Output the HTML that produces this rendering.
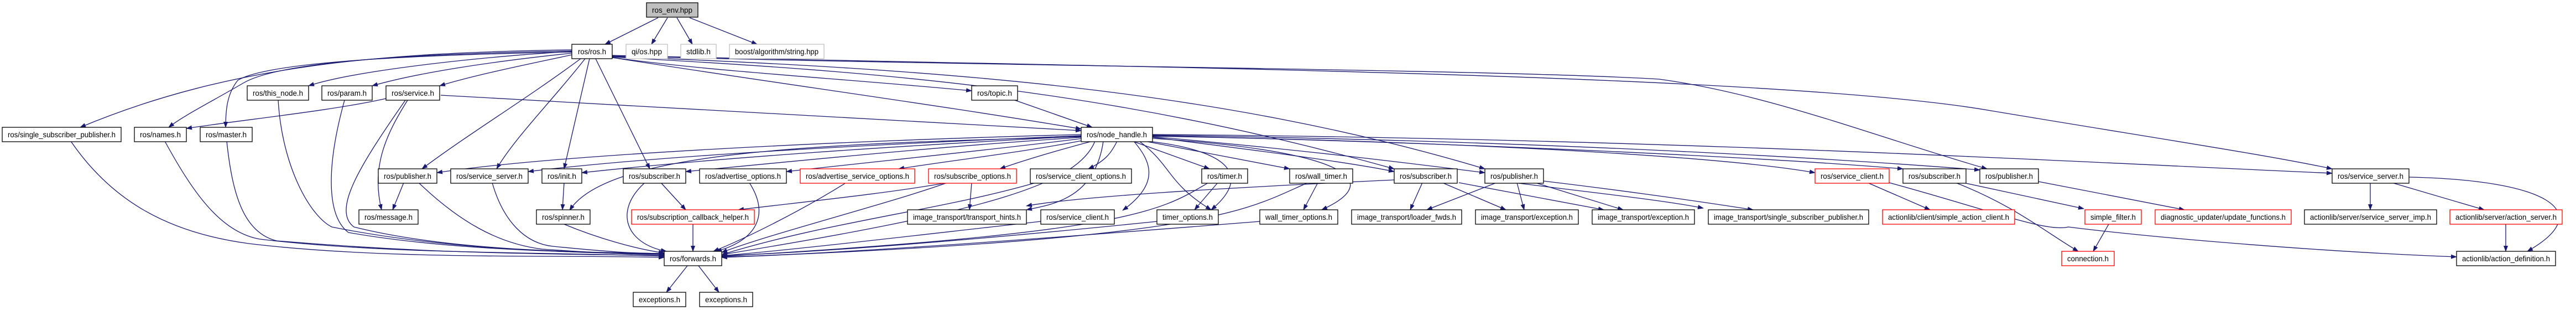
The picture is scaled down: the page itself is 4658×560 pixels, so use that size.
<!DOCTYPE html>
<html><head><meta charset="utf-8"><style>
html,body{margin:0;padding:0;background:#fff}
svg{display:block}
text{font-family:"Liberation Sans",sans-serif;font-size:14px;fill:#000}
.e{fill:none;stroke:#191970;stroke-width:1.3}
.n{fill:#fff;stroke:#000;stroke-width:1.3}
.r{fill:#fff;stroke:#ff0000;stroke-width:1.3}
.g{fill:#fff;stroke:#bfbfbf;stroke-width:1.3}
</style></head><body>
<svg width="4658" height="560" viewBox="0 0 4658 560" xmlns="http://www.w3.org/2000/svg">
<defs><marker id="a" markerWidth="11" markerHeight="8" refX="10" refY="4" orient="auto" markerUnits="userSpaceOnUse"><path d="M0,0 L11,4 L0,8 z" fill="#191970"/></marker></defs>
<g class="e" marker-end="url(#a)">
<path d="M1190,32 L1094,80"/><path d="M1207,32 L1178,80"/><path d="M1224,32 L1252,80"/><path d="M1247,32 L1369,80"/>
<path d="M1034,93 C900,100 650,125 558,155"/>
<path d="M1034,96 C900,110 760,130 673,155"/>
<path d="M1034,99 C960,115 860,135 795,155"/>
<path d="M1034,90 C700,95 420,115 145,230"/>
<path d="M1034,92 C700,98 500,115 440,150 C380,185 330,210 305,230"/>
<path d="M1034,94 C700,100 480,115 430,145 C410,170 408,200 408,230"/>
<path d="M1050,106 C950,180 850,240 763,305"/>
<path d="M1058,106 C1000,180 930,250 898,305"/>
<path d="M1066,106 L1020,305"/>
<path d="M1077,106 L1175,305"/>
<path d="M1107,104 C1300,130 1500,140 1757,164"/>
<path d="M1107,104 C1400,150 1700,190 1955,233"/>
<path d="M1107,103 C1600,130 2000,160 2521,305"/>
<path d="M1107,102 C1700,125 2200,160 2685,305"/>
<path d="M1107,101 C1800,120 2700,125 3000,143 C3200,170 3400,250 3593,305"/>
<path d="M1107,100 C1900,120 3200,130 3600,200 C3900,250 4100,280 4217,305"/>
<path d="M797,172 C1300,200 1700,220 1955,236"/>
<path d="M1835,181 L1975,230"/>
<path d="M698,178 C600,200 450,215 337,232"/>
<path d="M737,181 C700,240 670,300 690,379"/>
<path d="M1955,243 C1500,255 1000,280 790,312"/>
<path d="M1955,245 C1600,260 1200,280 955,310"/>
<path d="M1955,246 C1600,265 1300,285 1052,312"/>
<path d="M1955,247 C1500,260 1100,270 1030,380"/>
<path d="M1955,248 C1700,265 1500,285 1240,310"/>
<path d="M1958,250 C1800,270 1600,290 1422,310"/>
<path d="M1962,253 C1850,275 1720,290 1625,305"/>
<path d="M1975,255 C1900,275 1850,290 1808,305"/>
<path d="M2020,255 C2010,275 2000,290 1968,305"/>
<path d="M2048,255 L2187,305"/>
<path d="M2070,255 L2332,305"/>
<path d="M2084,248 C2300,275 2450,295 2521,310"/>
<path d="M2084,247 C2350,270 2550,295 2685,312"/>
<path d="M2084,246 C2600,255 3100,280 3282,312"/>
<path d="M2084,245 C2700,260 3200,285 3441,305"/>
<path d="M2084,244 C2800,255 3300,285 3580,307"/>
<path d="M2084,243 C3000,250 3700,290 4217,313"/>
<path d="M2050,255 C2080,290 2100,330 2030,380"/>
<path d="M2060,255 C2120,300 2110,330 2190,379"/>
<path d="M2075,255 C2250,275 2250,330 2190,379"/>
<path d="M2084,250 C2400,270 2520,320 2390,379"/>
<path d="M1995,255 C1980,360 1900,370 1856,379"/>
<path d="M730,330 L710,379"/>
<path d="M1020,330 L1017,379"/>
<path d="M1195,330 L1240,379"/>
<path d="M1757,330 L1753,379"/>
<path d="M1713,330 C1600,350 1450,365 1335,379"/>
<path d="M2202,330 L2160,379"/>
<path d="M2383,330 L2357,379"/>
<path d="M2572,330 L2550,379"/>
<path d="M2608,330 L2723,379"/>
<path d="M2638,330 L2900,379"/>
<path d="M2521,325 C2200,340 1950,355 1856,372"/>
<path d="M2706,330 L2580,379"/>
<path d="M2743,330 L2756,379"/>
<path d="M2776,330 L2935,379"/>
<path d="M2791,327 C2900,340 3050,360 3170,379"/>
<path d="M2700,325 C2850,345 3000,360 3080,376"/>
<path d="M3377,330 L3490,379"/>
<path d="M3550,330 L3768,377"/>
<path d="M3536,330 C3640,370 3700,420 3758,454"/>
<path d="M3686,328 L3950,379"/>
<path d="M3813,405 L3785,454"/>
<path d="M3416,330 C3600,380 3700,420 3740,410 C3900,430 4200,455 4442,464"/>
<path d="M4286,331 L4286,379"/>
<path d="M4325,330 L4492,379"/>
<path d="M4356,320 C4600,325 4700,380 4570,454"/>
<path d="M4531,405 L4531,454"/>
<path d="M128,255 C200,360 300,420 450,440 C700,470 1000,460 1201,465"/>
<path d="M298,255 C350,350 400,420 470,432 C700,460 1000,455 1201,463"/>
<path d="M410,255 C420,350 440,420 500,435 C800,460 1000,458 1201,462"/>
<path d="M503,181 C510,300 560,390 600,410 C800,450 1000,455 1201,460"/>
<path d="M623,181 C590,300 590,390 630,420 C800,450 1000,455 1201,459"/>
<path d="M733,181 C650,300 600,380 640,410 C800,450 1000,455 1201,458"/>
<path d="M757,330 C830,400 900,440 980,450 C1100,458 1150,460 1201,460"/>
<path d="M890,330 C910,400 950,440 1000,445 C1100,455 1150,458 1201,458"/>
<path d="M1020,405 C1080,430 1150,450 1201,457"/>
<path d="M1166,330 C1110,380 1130,440 1205,454"/>
<path d="M1253,405 L1253,454"/>
<path d="M1355,330 C1400,400 1350,440 1295,454"/>
<path d="M1530,330 C1450,380 1350,430 1290,454"/>
<path d="M1713,330 C1600,370 1400,420 1305,456"/>
<path d="M1873,330 C1700,380 1500,400 1305,460"/>
<path d="M1882,400 C1700,420 1450,450 1305,462"/>
<path d="M2185,330 C2100,380 2050,420 1305,463"/>
<path d="M2365,330 C2250,380 2200,430 1305,465"/>
<path d="M2092,400 C1800,430 1500,455 1305,462"/>
<path d="M2278,400 C1900,430 1500,460 1305,464"/>
<path d="M1980,255 C1950,330 1800,380 1305,460"/>
<path d="M1243,480 L1205,528"/><path d="M1263,480 L1300,528"/>
</g>
<g>
<rect x="1169" y="5" width="93" height="26" fill="#bfbfbf" stroke="#000" stroke-width="1.3"/><text x="1215.5" y="23" text-anchor="middle" textLength="73" lengthAdjust="spacingAndGlyphs">ros_env.hpp</text>
<rect class="n" x="1034" y="80" width="73" height="26"/><text x="1070.5" y="98" text-anchor="middle" textLength="51" lengthAdjust="spacingAndGlyphs">ros/ros.h</text>
<rect class="g" x="1132" y="80" width="75" height="26"/><text x="1169.5" y="98" text-anchor="middle" textLength="55" lengthAdjust="spacingAndGlyphs">qi/os.hpp</text>
<rect class="g" x="1231" y="80" width="64" height="26"/><text x="1263" y="98" text-anchor="middle" textLength="44" lengthAdjust="spacingAndGlyphs">stdlib.h</text>
<rect class="g" x="1319" y="80" width="171" height="26"/><text x="1404.5" y="98" text-anchor="middle" textLength="151" lengthAdjust="spacingAndGlyphs">boost/algorithm/string.hpp</text>
<rect class="n" x="447" y="155" width="111" height="26"/><text x="502.5" y="173" text-anchor="middle" textLength="91" lengthAdjust="spacingAndGlyphs">ros/this_node.h</text>
<rect class="n" x="582" y="155" width="91" height="26"/><text x="627.5" y="173" text-anchor="middle" textLength="71" lengthAdjust="spacingAndGlyphs">ros/param.h</text>
<rect class="n" x="698" y="155" width="97" height="26"/><text x="746.5" y="173" text-anchor="middle" textLength="77" lengthAdjust="spacingAndGlyphs">ros/service.h</text>
<rect class="n" x="1757" y="155" width="83" height="26"/><text x="1798.5" y="173" text-anchor="middle" textLength="63" lengthAdjust="spacingAndGlyphs">ros/topic.h</text>
<rect class="n" x="4" y="230" width="215" height="26"/><text x="111.5" y="248" text-anchor="middle" textLength="195" lengthAdjust="spacingAndGlyphs">ros/single_subscriber_publisher.h</text>
<rect class="n" x="243" y="230" width="94" height="26"/><text x="290" y="248" text-anchor="middle" textLength="74" lengthAdjust="spacingAndGlyphs">ros/names.h</text>
<rect class="n" x="362" y="230" width="94" height="26"/><text x="409" y="248" text-anchor="middle" textLength="74" lengthAdjust="spacingAndGlyphs">ros/master.h</text>
<rect class="n" x="1955" y="230" width="129" height="26"/><text x="2019.5" y="248" text-anchor="middle" textLength="109" lengthAdjust="spacingAndGlyphs">ros/node_handle.h</text>
<rect class="n" x="684" y="305" width="106" height="26"/><text x="737" y="323" text-anchor="middle" textLength="86" lengthAdjust="spacingAndGlyphs">ros/publisher.h</text>
<rect class="n" x="815" y="305" width="140" height="26"/><text x="885" y="323" text-anchor="middle" textLength="120" lengthAdjust="spacingAndGlyphs">ros/service_server.h</text>
<rect class="n" x="980" y="305" width="72" height="26"/><text x="1016" y="323" text-anchor="middle" textLength="52" lengthAdjust="spacingAndGlyphs">ros/init.h</text>
<rect class="n" x="1127" y="305" width="113" height="26"/><text x="1183.5" y="323" text-anchor="middle" textLength="93" lengthAdjust="spacingAndGlyphs">ros/subscriber.h</text>
<rect class="n" x="1265" y="305" width="157" height="26"/><text x="1343.5" y="323" text-anchor="middle" textLength="137" lengthAdjust="spacingAndGlyphs">ros/advertise_options.h</text>
<rect class="r" x="1447" y="305" width="207" height="26"/><text x="1550.5" y="323" text-anchor="middle" textLength="187" lengthAdjust="spacingAndGlyphs">ros/advertise_service_options.h</text>
<rect class="r" x="1679" y="305" width="159" height="26"/><text x="1758.5" y="323" text-anchor="middle" textLength="139" lengthAdjust="spacingAndGlyphs">ros/subscribe_options.h</text>
<rect class="n" x="1863" y="305" width="183" height="26"/><text x="1954.5" y="323" text-anchor="middle" textLength="163" lengthAdjust="spacingAndGlyphs">ros/service_client_options.h</text>
<rect class="n" x="2173" y="305" width="83" height="26"/><text x="2214.5" y="323" text-anchor="middle" textLength="63" lengthAdjust="spacingAndGlyphs">ros/timer.h</text>
<rect class="n" x="2332" y="305" width="114" height="26"/><text x="2389" y="323" text-anchor="middle" textLength="94" lengthAdjust="spacingAndGlyphs">ros/wall_timer.h</text>
<rect class="n" x="2521" y="305" width="114" height="26"/><text x="2578" y="323" text-anchor="middle" textLength="94" lengthAdjust="spacingAndGlyphs">ros/subscriber.h</text>
<rect class="n" x="2685" y="305" width="106" height="26"/><text x="2738" y="323" text-anchor="middle" textLength="86" lengthAdjust="spacingAndGlyphs">ros/publisher.h</text>
<rect class="r" x="3282" y="305" width="134" height="26"/><text x="3349" y="323" text-anchor="middle" textLength="114" lengthAdjust="spacingAndGlyphs">ros/service_client.h</text>
<rect class="n" x="3441" y="305" width="114" height="26"/><text x="3498" y="323" text-anchor="middle" textLength="94" lengthAdjust="spacingAndGlyphs">ros/subscriber.h</text>
<rect class="n" x="3580" y="305" width="106" height="26"/><text x="3633" y="323" text-anchor="middle" textLength="86" lengthAdjust="spacingAndGlyphs">ros/publisher.h</text>
<rect class="n" x="4217" y="305" width="139" height="26"/><text x="4286.5" y="323" text-anchor="middle" textLength="119" lengthAdjust="spacingAndGlyphs">ros/service_server.h</text>
<rect class="n" x="649" y="379" width="107" height="26"/><text x="702.5" y="397" text-anchor="middle" textLength="87" lengthAdjust="spacingAndGlyphs">ros/message.h</text>
<rect class="n" x="970" y="379" width="97" height="26"/><text x="1018.5" y="397" text-anchor="middle" textLength="77" lengthAdjust="spacingAndGlyphs">ros/spinner.h</text>
<rect class="r" x="1142" y="379" width="222" height="26"/><text x="1253" y="397" text-anchor="middle" textLength="202" lengthAdjust="spacingAndGlyphs">ros/subscription_callback_helper.h</text>
<rect class="n" x="1641" y="379" width="215" height="26"/><text x="1748.5" y="397" text-anchor="middle" textLength="195" lengthAdjust="spacingAndGlyphs">image_transport/transport_hints.h</text>
<rect class="n" x="1882" y="379" width="133" height="26"/><text x="1948.5" y="397" text-anchor="middle" textLength="113" lengthAdjust="spacingAndGlyphs">ros/service_client.h</text>
<rect class="n" x="2092" y="379" width="111" height="26"/><text x="2147.5" y="397" text-anchor="middle" textLength="91" lengthAdjust="spacingAndGlyphs">timer_options.h</text>
<rect class="n" x="2278" y="379" width="141" height="26"/><text x="2348.5" y="397" text-anchor="middle" textLength="121" lengthAdjust="spacingAndGlyphs">wall_timer_options.h</text>
<rect class="n" x="2444" y="379" width="199" height="26"/><text x="2543.5" y="397" text-anchor="middle" textLength="179" lengthAdjust="spacingAndGlyphs">image_transport/loader_fwds.h</text>
<rect class="n" x="2668" y="379" width="186" height="26"/><text x="2761" y="397" text-anchor="middle" textLength="166" lengthAdjust="spacingAndGlyphs">image_transport/exception.h</text>
<rect class="n" x="2879" y="379" width="185" height="26"/><text x="2971.5" y="397" text-anchor="middle" textLength="165" lengthAdjust="spacingAndGlyphs">image_transport/exception.h</text>
<rect class="n" x="3089" y="379" width="290" height="26"/><text x="3234" y="397" text-anchor="middle" textLength="270" lengthAdjust="spacingAndGlyphs">image_transport/single_subscriber_publisher.h</text>
<rect class="r" x="3404" y="379" width="239" height="26"/><text x="3523.5" y="397" text-anchor="middle" textLength="219" lengthAdjust="spacingAndGlyphs">actionlib/client/simple_action_client.h</text>
<rect class="r" x="3770" y="379" width="102" height="26"/><text x="3821" y="397" text-anchor="middle" textLength="82" lengthAdjust="spacingAndGlyphs">simple_filter.h</text>
<rect class="r" x="3897" y="379" width="246" height="26"/><text x="4020" y="397" text-anchor="middle" textLength="226" lengthAdjust="spacingAndGlyphs">diagnostic_updater/update_functions.h</text>
<rect class="n" x="4167" y="379" width="239" height="26"/><text x="4286.5" y="397" text-anchor="middle" textLength="219" lengthAdjust="spacingAndGlyphs">actionlib/server/service_server_imp.h</text>
<rect class="r" x="4430" y="379" width="203" height="26"/><text x="4531.5" y="397" text-anchor="middle" textLength="183" lengthAdjust="spacingAndGlyphs">actionlib/server/action_server.h</text>
<rect class="n" x="1201" y="454" width="104" height="26"/><text x="1253" y="472" text-anchor="middle" textLength="84" lengthAdjust="spacingAndGlyphs">ros/forwards.h</text>
<rect class="r" x="3728" y="454" width="95" height="26"/><text x="3775.5" y="472" text-anchor="middle" textLength="75" lengthAdjust="spacingAndGlyphs">connection.h</text>
<rect class="n" x="4442" y="454" width="179" height="26"/><text x="4531.5" y="472" text-anchor="middle" textLength="159" lengthAdjust="spacingAndGlyphs">actionlib/action_definition.h</text>
<rect class="n" x="1145" y="528" width="95" height="26"/><text x="1192.5" y="546" text-anchor="middle" textLength="75" lengthAdjust="spacingAndGlyphs">exceptions.h</text>
<rect class="n" x="1265" y="528" width="96" height="26"/><text x="1313" y="546" text-anchor="middle" textLength="76" lengthAdjust="spacingAndGlyphs">exceptions.h</text>
</g>
</svg>
</body></html>
